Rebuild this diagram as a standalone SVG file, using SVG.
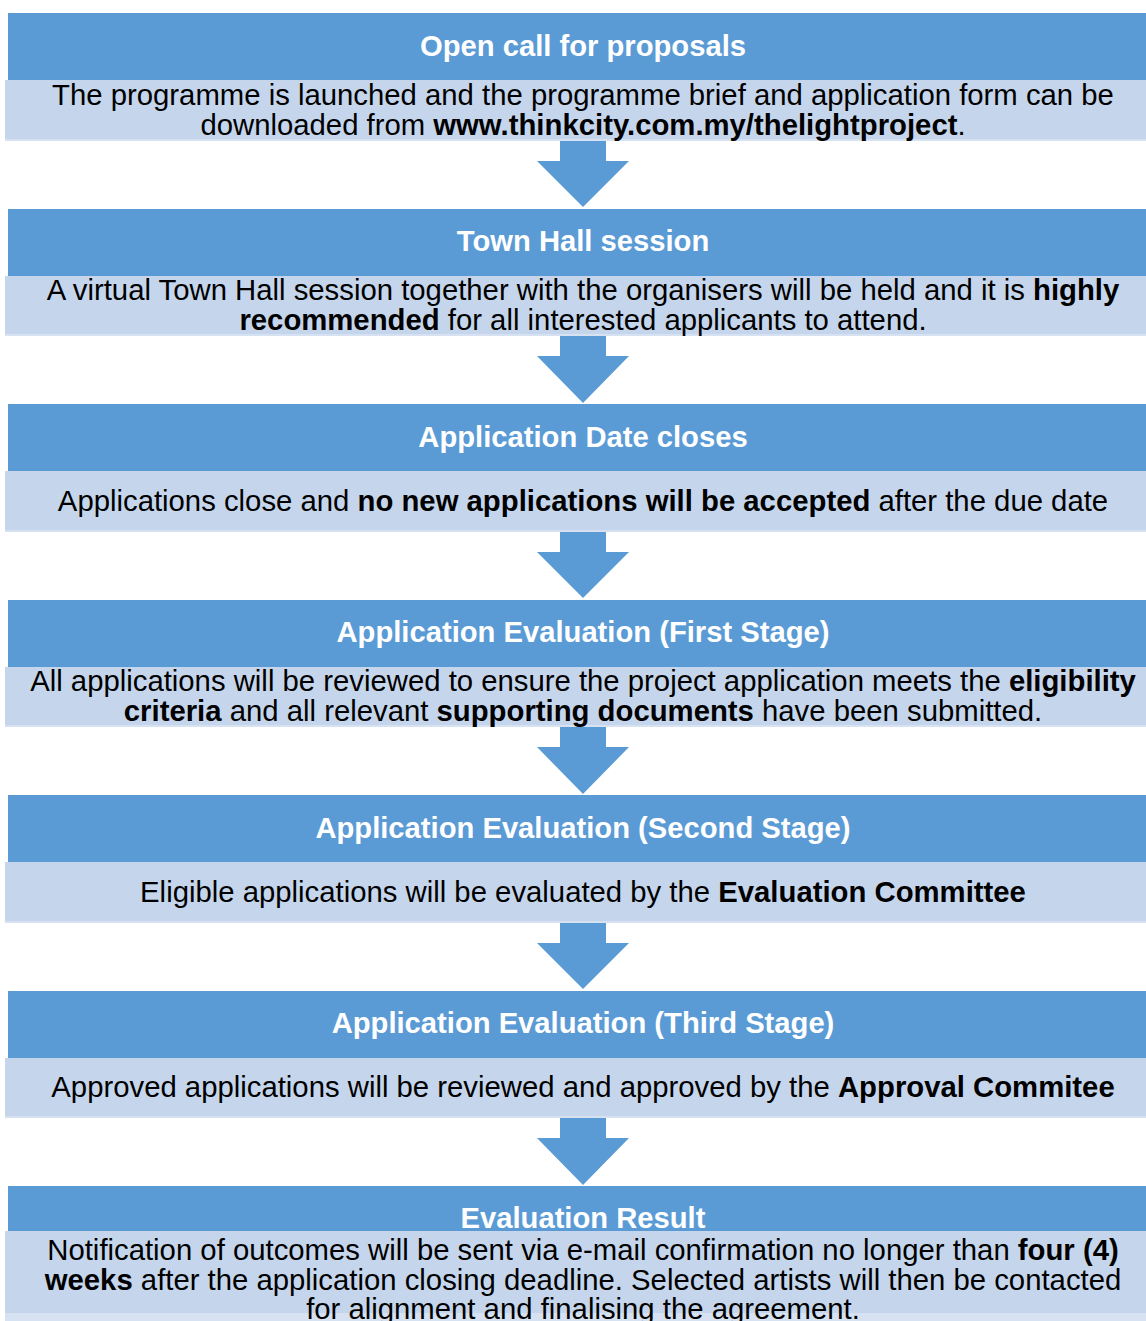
<svg xmlns="http://www.w3.org/2000/svg" width="1146" height="1321" viewBox="0 0 1146 1321">
<style>
.hd{fill:#5B9BD5}
.bd{fill:#C5D6EC}
.ln{fill:#D6E2F1}
.ar{fill:#5B9BD5}
.ht{font-family:"Liberation Sans",Arial,sans-serif;font-size:29.2px;font-weight:bold;fill:#FFFFFF;text-anchor:middle}
.bt{font-family:"Liberation Sans",Arial,sans-serif;font-size:29.3px;fill:#000000;text-anchor:middle}
.b{font-weight:bold}
</style>
<rect width="1146" height="1321" fill="#FFFFFF"/>
<g id="connectors">
<path class="ar" d="M560,141 H606 V161 H629 L583,207 L537,161 H560 Z"/>
<path class="ar" d="M560,336 H606 V356 H629 L583,403 L537,356 H560 Z"/>
<path class="ar" d="M560,532 H606 V552 H629 L583,598 L537,552 H560 Z"/>
<path class="ar" d="M560,727 H606 V747 H629 L583,794 L537,747 H560 Z"/>
<path class="ar" d="M560,923 H606 V943 H629 L583,989 L537,943 H560 Z"/>
<path class="ar" d="M560,1118 H606 V1138 H629 L583,1185 L537,1138 H560 Z"/>
</g>
<g id="node1">
<rect class="hd" x="8" y="13" width="1138" height="67"/>
<rect class="bd" x="5" y="80" width="1141" height="61"/>
<rect class="ln" x="5" y="139" width="1141" height="2"/>
<text class="ht" x="583" y="56">Open call for proposals</text>
<text class="bt" x="583" y="105">The programme is launched and the programme brief and application form can be</text>
<text class="bt" x="583" y="135">downloaded from <tspan class="b">www.thinkcity.com.my/thelightproject</tspan>.</text>
</g>
<g id="node2">
<rect class="hd" x="8" y="209" width="1138" height="67"/>
<rect class="bd" x="5" y="276" width="1141" height="60"/>
<rect class="ln" x="5" y="334" width="1141" height="2"/>
<text class="ht" x="583" y="251">Town Hall session</text>
<text class="bt" x="583" y="300">A virtual Town Hall session together with the organisers will be held and it is <tspan class="b">highly</tspan></text>
<text class="bt" x="583" y="330"><tspan class="b">recommended</tspan> for all interested applicants to attend.</text>
</g>
<g id="node3">
<rect class="hd" x="8" y="404" width="1138" height="67"/>
<rect class="bd" x="5" y="471" width="1141" height="61"/>
<rect class="ln" x="5" y="530" width="1141" height="2"/>
<text class="ht" x="583" y="447">Application Date closes</text>
<text class="bt" x="583" y="511">Applications close and <tspan class="b">no new applications will be accepted</tspan> after the due date</text>
</g>
<g id="node4">
<rect class="hd" x="8" y="600" width="1138" height="67"/>
<rect class="bd" x="5" y="667" width="1141" height="60"/>
<rect class="ln" x="5" y="725" width="1141" height="2"/>
<text class="ht" x="583" y="642">Application Evaluation (First Stage)</text>
<text class="bt" x="583" y="691">All applications will be reviewed to ensure the project application meets the <tspan class="b">eligibility</tspan></text>
<text class="bt" x="583" y="721"><tspan class="b">criteria</tspan> and all relevant <tspan class="b">supporting documents</tspan> have been submitted.</text>
</g>
<g id="node5">
<rect class="hd" x="8" y="795" width="1138" height="67"/>
<rect class="bd" x="5" y="862" width="1141" height="61"/>
<rect class="ln" x="5" y="921" width="1141" height="2"/>
<text class="ht" x="583" y="838">Application Evaluation (Second Stage)</text>
<text class="bt" x="583" y="902">Eligible applications will be evaluated by the <tspan class="b">Evaluation Committee</tspan></text>
</g>
<g id="node6">
<rect class="hd" x="8" y="991" width="1138" height="67"/>
<rect class="bd" x="5" y="1058" width="1141" height="60"/>
<rect class="ln" x="5" y="1116" width="1141" height="2"/>
<text class="ht" x="583" y="1033">Application Evaluation (Third Stage)</text>
<text class="bt" x="583" y="1097">Approved applications will be reviewed and approved by the <tspan class="b">Approval Commitee</tspan></text>
</g>
<g id="node7">
<rect class="hd" x="8" y="1186" width="1138" height="45"/>
<rect class="bd" x="5" y="1231" width="1141" height="90"/>
<rect class="ln" x="5" y="1313" width="1141" height="8"/>
<text class="ht" x="583" y="1228">Evaluation Result</text>
<text class="bt" x="583" y="1260">Notification of outcomes will be sent via e-mail confirmation no longer than <tspan class="b">four (4)</tspan></text>
<text class="bt" x="583" y="1290"><tspan class="b">weeks</tspan> after the application closing deadline. Selected artists will then be contacted</text>
<text class="bt" x="583" y="1319">for alignment and finalising the agreement.</text>
</g>
</svg>
